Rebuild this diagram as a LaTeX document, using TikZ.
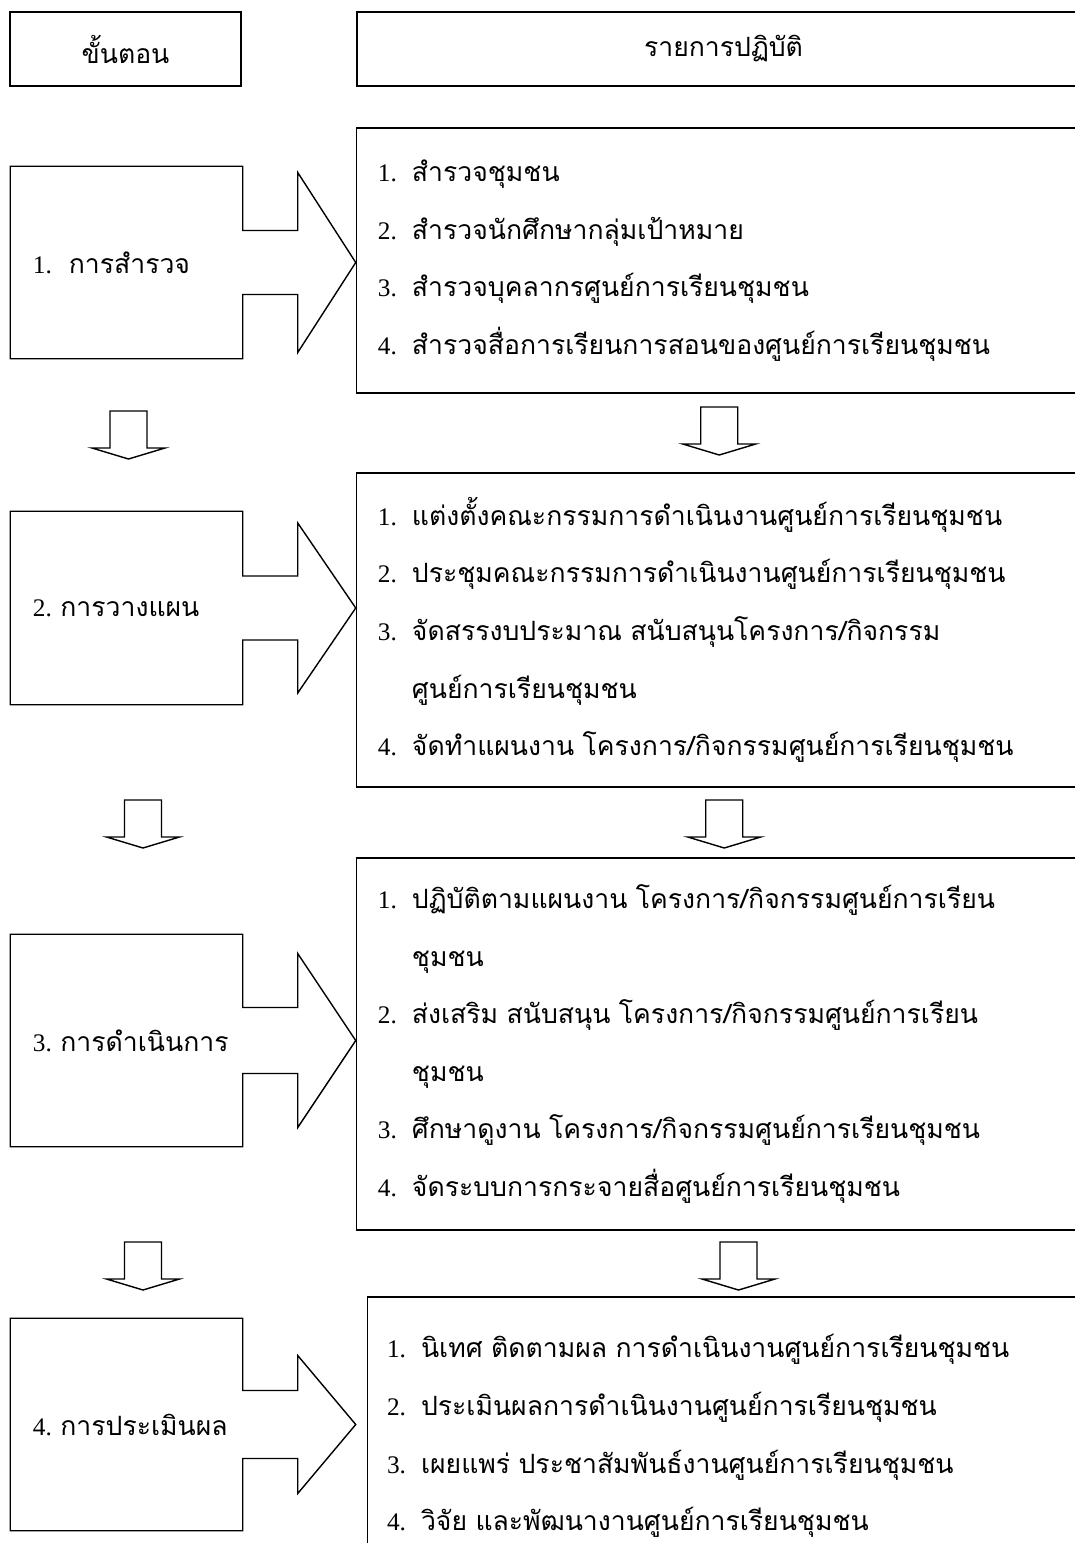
\documentclass[tikz,border=0pt]{standalone}
\usepackage{fontspec}
\setmainfont{Liberation Serif}
\newfontfamily\thaifont[Script=Thai, Scale=1.05]{Loma}
\usetikzlibrary{calc}

\newcommand{\itm}[2]{\makebox[0.85cm][l]{#1.}{\thaifont #2}}
\newcommand{\cont}[1]{\hspace*{0.85cm}{\thaifont #1}}

% outline of a step box with its block arrow to the right
\newcommand{\steparrow}[3]{%
  \draw (#1.north west) -- (#1.north east)
    -- ($(#1.east)+(0,-#2)$) -- ($(#1.east)+(55,-#2)$) -- ($(#1.east)+(55,-#3)$)
    -- ($(#1.east)+(113,0)$)
    -- ($(#1.east)+(55,#3)$) -- ($(#1.east)+(55,#2)$) -- ($(#1.east)+(0,#2)$)
    -- (#1.south east) -- (#1.south west) -- cycle;}

\begin{document}
\begin{tikzpicture}[%
    x=0.025cm,
    y=-0.025cm,
    line width=1pt,
    headbox/.style={draw, minimum height=1.85cm, font=\thaifont\fontsize{18}{20}\selectfont},
    stepbox/.style={minimum width=5.775cm, text width=4.675cm, inner xsep=0.55cm,
      align=left, font=\fontsize{18}{20}\selectfont},
    actbox/.style={draw, text width=17.26cm, inner xsep=0.5375cm, align=left,
      font=\fontsize{18}{41}\selectfont},
    downarr/.pic={\draw (-18.5,-24) -- (18.5,-24) -- (18.5,13) -- (36.5,13)
      -- (0,24) -- (-36.5,13) -- (-18.5,13) -- cycle;}
  ]

  \useasboundingbox (0,0) rectangle (1075,1543);
  \clip (0,0) rectangle (1075,1543);

  % headings
  \node[headbox, minimum width=5.775cm] (hstep) at (125.5,49) {ขั้นตอน};
  \node[headbox, minimum width=18.325cm] (hact) at (723.5,49) {รายการปฏิบัติ};

  % steps
  \node[stepbox, minimum height=4.775cm] (s1) at (126.5,262.5) {1.\ \ {\thaifont การสำรวจ}};
  \node[stepbox, minimum height=4.8cm] (s2) at (126.5,608) {2.~{\thaifont การวางแผน}};
  \node[stepbox, minimum height=5.275cm] (s3) at (126.5,1040.5) {3.~{\thaifont การดำเนินการ}};
  \node[stepbox, minimum height=5.275cm] (s4) at (126.5,1424.5) {4.~{\thaifont การประเมินผล}};

  \steparrow{s1}{32}{90}
  \steparrow{s2}{32}{85}
  \steparrow{s3}{33}{87}
  \steparrow{s4}{34}{69}

  % actions
  \node[actbox, minimum height=6.625cm] (act1) at (723.25,260.5) {%
    \itm{1}{สำรวจชุมชน}\\
    \itm{2}{สำรวจนักศึกษากลุ่มเป้าหมาย}\\
    \itm{3}{สำรวจบุคลากรศูนย์การเรียนชุมชน}\\
    \itm{4}{สำรวจสื่อการเรียนการสอนของศูนย์การเรียนชุมชน}};
  \node[actbox, minimum height=7.85cm] (act2) at (723.25,630) {%
    \itm{1}{แต่งตั้งคณะกรรมการดำเนินงานศูนย์การเรียนชุมชน}\\
    \itm{2}{ประชุมคณะกรรมการดำเนินงานศูนย์การเรียนชุมชน}\\
    \itm{3}{จัดสรรงบประมาณ สนับสนุนโครงการ/กิจกรรม}\\
    \cont{ศูนย์การเรียนชุมชน}\\
    \itm{4}{จัดทำแผนงาน โครงการ/กิจกรรมศูนย์การเรียนชุมชน}};
  \node[actbox, minimum height=9.3cm] (act3) at (723.25,1044) {%
    \itm{1}{ปฏิบัติตามแผนงาน โครงการ/กิจกรรมศูนย์การเรียน}\\
    \cont{ชุมชน}\\
    \itm{2}{ส่งเสริม สนับสนุน โครงการ/กิจกรรมศูนย์การเรียน}\\
    \cont{ชุมชน}\\
    \itm{3}{ศึกษาดูงาน โครงการ/กิจกรรมศูนย์การเรียนชุมชน}\\
    \itm{4}{จัดระบบการกระจายสื่อศูนย์การเรียนชุมชน}};
  \node[actbox, text width=17.085cm, inner xsep=0.4875cm, minimum height=6.95cm]
    (act4) at (728.8,1436) {%
    \itm{1}{นิเทศ ติดตามผล การดำเนินงานศูนย์การเรียนชุมชน}\\
    \itm{2}{ประเมินผลการดำเนินงานศูนย์การเรียนชุมชน}\\
    \itm{3}{เผยแพร่ ประชาสัมพันธ์งานศูนย์การเรียนชุมชน}\\
    \itm{4}{วิจัย และพัฒนางานศูนย์การเรียนชุมชน}};

  % block arrows between the rows
  \pic at ($(s1.south)!0.5!(s2.north)+(2,0)$) {downarr};
  \pic at ($(s2.south)!0.5!(s3.north)+(16.5,4.5)$) {downarr};
  \pic at ($(s3.south)!0.5!(s4.north)+(16.5,33.5)$) {downarr};
  \pic at ($(act1.south)!0.5!(act2.north)+(-4,-2)$) {downarr};
  \pic at ($(act2.south)!0.5!(act3.north)+(1,1.5)$) {downarr};
  \pic at ($(act3.south)!0.5!(act4.north)+(12.5,2.5)$) {downarr};

\end{tikzpicture}
\end{document}
